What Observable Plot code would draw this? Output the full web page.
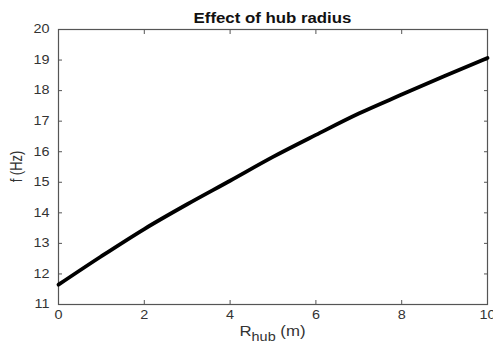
<!DOCTYPE html>
<html>
<head>
<meta charset="utf-8">
<script src="https://cdn.jsdelivr.net/npm/d3@7"></script>
<script src="https://cdn.jsdelivr.net/npm/@observablehq/plot@0.6"></script>
<style>
  html, body { margin: 0; padding: 0; background: #fff; }
  #chart { width: 493px; height: 345px; overflow: hidden; }
</style>
</head>
<body>
<div id="chart"></div>
<script>
// Hub radius (m) and natural frequency (Hz)
const hubRadius = [0, 1, 2, 3, 4, 5, 6, 7, 8, 9, 10];
const frequency = [11.65, 12.58, 13.47, 14.28, 15.05, 15.83, 16.55, 17.25, 17.87, 18.48, 19.07];

const xTicks = [0, 2, 4, 6, 8, 10];
const yTicks = [11, 12, 13, 14, 15, 16, 17, 18, 19, 20];

const data = hubRadius.map((r, i) => ({r, f: frequency[i]}));

const W = 493, H = 345;
const mL = 58, mR = 6, mT = 29, mB = 41;
const axisColor = "#555";
const font = "Liberation Sans, Arial, sans-serif";
const stretch = 1.2; // horizontal widening of all lettering

const chart = Plot.plot({
  width: W,
  height: H,
  marginLeft: mL,
  marginRight: mR,
  marginTop: mT,
  marginBottom: mB,
  style: {fontFamily: font, fontSize: "12px", color: "#333", background: "#fff", overflow: "hidden"},
  x: {domain: [0, 10]},
  y: {domain: [11, 20]},
  marks: [
    Plot.frame({stroke: axisColor, strokeWidth: 1.2}),
    // tick labels
    Plot.axisX(xTicks, {anchor: "bottom", tickSize: 0, tickPadding: 6, label: null, fill: "#333"}),
    Plot.axisY(yTicks, {anchor: "left", tickSize: 0, tickPadding: 9, label: null, fill: "#333"}),
    // inward tick marks on all four sides
    Plot.axisX(xTicks, {anchor: "bottom", tickSize: -4, text: null, label: null, stroke: axisColor}),
    Plot.axisX(xTicks, {anchor: "top", tickSize: -4, text: null, label: null, stroke: axisColor}),
    Plot.axisY(yTicks, {anchor: "left", tickSize: -4, text: null, label: null, stroke: axisColor}),
    Plot.axisY(yTicks, {anchor: "right", tickSize: -4, text: null, label: null, stroke: axisColor}),
    Plot.line(data, {x: "r", y: "f", stroke: "#000", strokeWidth: 3.8, curve: "monotone-x"})
  ]
});

const svg = d3.select(chart);
const cx = mL + (W - mL - mR) / 2;

// title
svg.append("text")
  .attr("x", cx).attr("y", 23)
  .attr("text-anchor", "middle")
  .attr("font-family", font).attr("font-size", 14).attr("font-weight", "bold")
  .attr("fill", "#111")
  .text("Effect of hub radius");

// x label with subscript
const xl = svg.append("text")
  .attr("x", cx).attr("y", 336)
  .attr("text-anchor", "middle")
  .attr("font-family", font).attr("font-size", 14)
  .attr("fill", "#333");
xl.append("tspan").text("R");
xl.append("tspan").attr("dy", 5).attr("font-size", 12).text("hub");
xl.append("tspan").attr("dy", -5).text(" (m)");

document.getElementById("chart").appendChild(chart);

// widen horizontal lettering (tick labels, title, x label)
chart.querySelectorAll("text").forEach(el => {
  const len = el.getComputedTextLength();
  if (len > 0) {
    el.setAttribute("textLength", (len * stretch).toFixed(2));
    el.setAttribute("lengthAdjust", "spacingAndGlyphs");
  }
});

// y label, widened across its glyph height
svg.append("text")
  .attr("transform", `translate(18,${mT + (H - mT - mB) / 2}) scale(${stretch},1) translate(3.4,0) rotate(-90)`)
  .attr("text-anchor", "middle")
  .attr("font-family", font).attr("font-size", 13)
  .attr("fill", "#333")
  .text("f (Hz)");
</script>
</body>
</html>
